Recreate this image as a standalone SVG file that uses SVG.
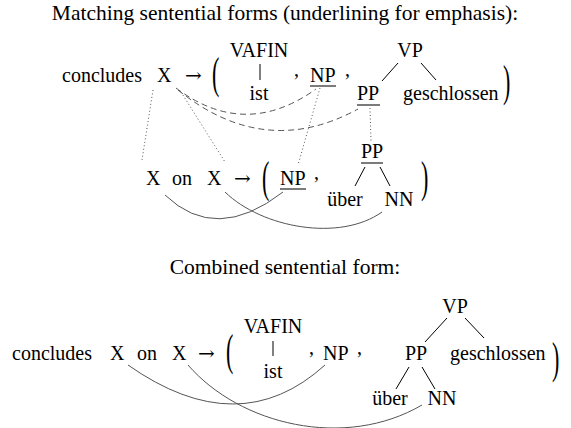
<svg xmlns="http://www.w3.org/2000/svg" width="571" height="428" viewBox="0 0 571 428">
<style>
.b{font-size:20px}
.h{font-size:21.5px}
.p{font-size:22px}
.tree{stroke:#000;stroke-width:1;fill:none}
.ul{stroke:#333;stroke-width:1.3}
.dash{stroke:#555;stroke-width:1;fill:none;stroke-dasharray:6 4}
.dot{stroke:#555;stroke-width:1;fill:none;stroke-dasharray:1 2.5}
.arc{stroke:#555;stroke-width:1;fill:none}
</style>
<rect width="571" height="428" fill="#fff"/>
<g font-family="Liberation Serif">
<text class="h" x="285" y="20" text-anchor="middle">Matching sentential forms (underlining for emphasis):</text>
<text class="h" x="285" y="274" text-anchor="middle">Combined sentential form:</text>

<g id="row1">
<g id="r1-concludes"><text class="b" x="62" y="82">concludes</text></g>
<g id="r1-X"><text class="b" x="157" y="82">X</text></g>
<g id="r1-arrow"><text class="b" font-family="DejaVu Serif" x="185" y="82">&#8594;</text></g>
<g id="r1-lp"><text class="p" transform="translate(212,88) scale(1,2)">(</text></g>
<g id="r1-VAFIN"><text class="b" text-anchor="middle" x="259" y="57">VAFIN</text><line class="tree" x1="260" y1="64" x2="260" y2="80"/><text class="b" text-anchor="middle" x="259" y="100">ist</text></g>
<g id="r1-c1"><text class="b" x="294" y="76">,</text></g>
<g id="r1-NP"><text class="b" x="310" y="82">NP</text><line class="ul" x1="310" y1="86" x2="336" y2="86"/></g>
<g id="r1-c2"><text class="b" x="345" y="76">,</text></g>
<g id="r1-VP"><text class="b" text-anchor="middle" x="410" y="57">VP</text>
<line class="tree" x1="398" y1="63" x2="382" y2="81"/>
<line class="tree" x1="421" y1="63" x2="436" y2="80"/>
<text class="b" text-anchor="middle" x="368" y="100">PP</text><line class="ul" x1="357" y1="105" x2="380" y2="105"/>
<text class="b" x="403" y="100">geschlossen</text></g>
<g id="r1-rp"><text class="p" transform="translate(503,96) scale(1,2)">)</text></g>
</g>

<g id="row2">
<g id="r2-X1"><text class="b" x="146" y="185">X</text></g>
<g id="r2-on"><text class="b" x="172" y="185">on</text></g>
<g id="r2-X2"><text class="b" x="207" y="185">X</text></g>
<g id="r2-arrow"><text class="b" font-family="DejaVu Serif" x="234" y="185">&#8594;</text></g>
<g id="r2-lp"><text class="p" transform="translate(262,192) scale(1,2)">(</text></g>
<g id="r2-NP"><text class="b" x="280" y="185">NP</text><line class="ul" x1="280" y1="189" x2="306" y2="189"/></g>
<g id="r2-c"><text class="b" x="314" y="179">,</text></g>
<g id="r2-PP"><text class="b" text-anchor="middle" x="372" y="158">PP</text><line class="ul" x1="361" y1="163" x2="383" y2="163"/>
<line class="tree" x1="365" y1="167" x2="355" y2="186"/>
<line class="tree" x1="380" y1="167" x2="390" y2="186"/>
<text class="b" text-anchor="middle" x="345" y="206">&#252;ber</text>
<text class="b" text-anchor="middle" x="399" y="206">NN</text></g>
<g id="r2-rp"><text class="p" transform="translate(421,192) scale(1,2)">)</text></g>
</g>

<g id="row3">
<g id="r3-concludes"><text class="b" x="12" y="360">concludes</text></g>
<g id="r3-X1"><text class="b" x="110" y="360">X</text></g>
<g id="r3-on"><text class="b" x="137" y="360">on</text></g>
<g id="r3-X2"><text class="b" x="172" y="360">X</text></g>
<g id="r3-arrow"><text class="b" font-family="DejaVu Serif" x="198" y="360">&#8594;</text></g>
<g id="r3-lp"><text class="p" transform="translate(226,365) scale(1,2)">(</text></g>
<g id="r3-VAFIN"><text class="b" text-anchor="middle" x="273" y="333">VAFIN</text><line class="tree" x1="273" y1="341" x2="273" y2="356"/><text class="b" text-anchor="middle" x="273" y="378">ist</text></g>
<g id="r3-c1"><text class="b" x="309" y="354">,</text></g>
<g id="r3-NP"><text class="b" x="323" y="360">NP</text></g>
<g id="r3-c2"><text class="b" x="357" y="354">,</text></g>
<g id="r3-VP"><text class="b" text-anchor="middle" x="455" y="313">VP</text>
<line class="tree" x1="447" y1="318" x2="425" y2="342"/>
<line class="tree" x1="465" y1="318" x2="484" y2="338"/>
<text class="b" text-anchor="middle" x="416" y="360">PP</text>
<line class="tree" x1="409" y1="367" x2="396" y2="389"/>
<line class="tree" x1="422" y1="367" x2="435" y2="389"/>
<text class="b" text-anchor="middle" x="390" y="405">&#252;ber</text>
<text class="b" text-anchor="middle" x="442" y="405">NN</text>
<text class="b" x="450" y="360">geschlossen</text></g>
<g id="r3-rp"><text class="p" transform="translate(552,373) scale(1,2)">)</text></g>
</g>
</g>

<g id="connectors">
<path class="dot" d="M153,90 L142,160"/>
<path class="dot" d="M181,92 L225,162"/>
<path class="dot" d="M320,88 L298,165"/>
<path class="dot" d="M370,108 L371,142"/>
<path class="dash" d="M176,88 Q245,140 316,89"/>
<path class="dash" d="M178,90 Q265,160 358,109"/>
<path class="arc" d="M165,195 Q216,244 283,192"/>
<path class="arc" d="M225,192 C262,228 340,242 382,212"/>
<path class="arc" d="M128,365 Q239,443 325,365"/>
<path class="arc" d="M188,365 C240,425 345,450 422,405"/>
</g>
</svg>
